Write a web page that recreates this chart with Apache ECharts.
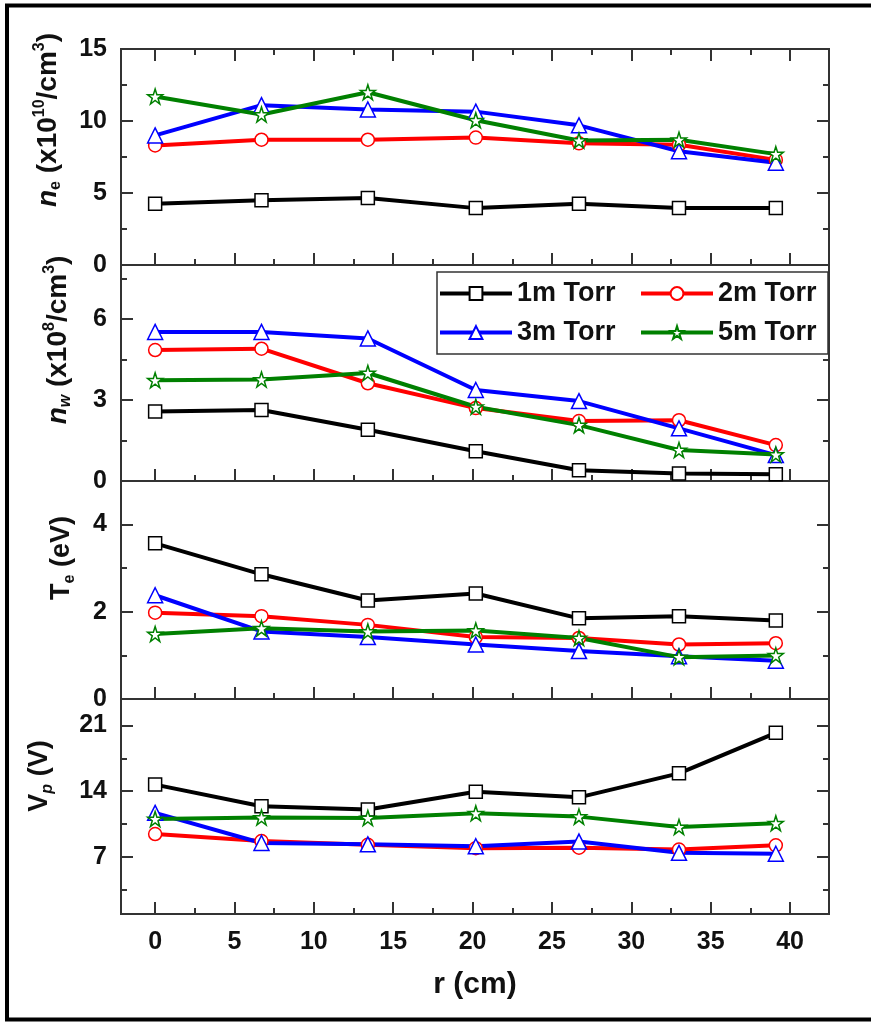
<!DOCTYPE html>
<html>
<head>
<meta charset="utf-8">
<title>Radial profiles</title>
<script src="https://cdn.jsdelivr.net/npm/echarts@6/dist/echarts.min.js"></script>
<style>
html, body { margin: 0; padding: 0; background: #fff; }
#chart { width: 871px; height: 1024px; }
</style>
</head>
<body>
<div id="chart"></div>
<script>
// radial position of the probe (cm)
const radius = [0, 6.7, 13.4, 20.2, 26.7, 33.0, 39.1];
const pressures = ['1m Torr', '2m Torr', '3m Torr', '5m Torr'];

// electron density n_e (x10^10 /cm^3)
const ne1m = [4.25, 4.5, 4.65, 3.95, 4.25, 3.95, 3.95];
const ne2m = [8.3, 8.7, 8.7, 8.85, 8.45, 8.35, 7.3];
const ne3m = [9.0, 11.1, 10.8, 10.65, 9.7, 7.9, 7.1];
const ne5m = [11.7, 10.45, 12.0, 10.05, 8.65, 8.7, 7.7];

// n_w (x10^8 /cm^3)
const nw1m = [2.57, 2.63, 1.9, 1.1, 0.4, 0.28, 0.25];
const nw2m = [4.85, 4.9, 3.62, 2.7, 2.22, 2.25, 1.33];
const nw3m = [5.52, 5.52, 5.28, 3.37, 2.96, 1.95, 0.96];
const nw5m = [3.73, 3.76, 4.0, 2.75, 2.07, 1.15, 0.98];

// electron temperature T_e (eV)
const te1m = [3.57, 2.86, 2.26, 2.42, 1.85, 1.9, 1.8];
const te2m = [1.98, 1.9, 1.7, 1.42, 1.4, 1.25, 1.28];
const te3m = [2.38, 1.55, 1.42, 1.25, 1.1, 0.98, 0.88];
const te5m = [1.49, 1.62, 1.55, 1.57, 1.4, 0.96, 1.0];

// plasma potential V_p (V)
const vp1m = [14.7, 12.4, 12.05, 13.95, 13.35, 15.9, 20.2];
const vp2m = [9.45, 8.7, 8.3, 7.95, 8.0, 7.8, 8.25];
const vp3m = [11.7, 8.5, 8.35, 8.15, 8.65, 7.45, 7.35];
const vp5m = [11.05, 11.2, 11.15, 11.65, 11.3, 10.2, 10.6];

// tick values
const xMajor = [0, 5, 10, 15, 20, 25, 30, 35, 40];
const xMinor = [2.5, 7.5, 12.5, 17.5, 22.5, 27.5, 32.5, 37.5];
const neMajor = [0, 5, 10, 15];
const neMinor = [2.5, 7.5, 12.5];
const nwMajor = [0, 3, 6];
const nwMinor = [1.5, 4.5, 7.5];
const teMajor = [0, 2, 4];
const teMinor = [1, 3];
const vpMajor = [7, 14, 21];
const vpMinor = [3.5, 10.5, 17.5];

const fontFamily = '"Liberation Sans", Arial, Helvetica, sans-serif';
const frameColor = '#333333';
const colors = ['#000000', '#ff0000', '#0000ff', '#008000'];
const starPath = 'path://M50,0L61.2,34.5L97.6,34.5L68.2,55.9L79.4,90.5L50,69.1L20.6,90.5L31.8,55.9L2.4,34.5L38.8,34.5Z';
const symbols = ['rect', 'circle', 'triangle', starPath];
const symbolSizes = [13, 13, 15, 15];
const xMin = -2.15, xMax = 42.45;

const panels = [
    { top: 49, height: 216, min: 0, max: 15, major: neMajor, minor: neMinor, data: [ne1m, ne2m, ne3m, ne5m] },
    { top: 265, height: 216, min: 0, max: 8, major: nwMajor, minor: nwMinor, data: [nw1m, nw2m, nw3m, nw5m] },
    { top: 481, height: 218, min: 0, max: 5, major: teMajor, minor: teMinor, data: [te1m, te2m, te3m, te5m] },
    { top: 699, height: 215, min: 0.95, max: 23.8, major: vpMajor, minor: vpMinor, data: [vp1m, vp2m, vp3m, vp5m] }
];

// an axis used only for its inward ticks (and maybe labels)
function tickAxis(gridIndex, position, min, max, values, length, showLabel) {
    return {
        type: 'value',
        gridIndex: gridIndex,
        position: position,
        min: min,
        max: max,
        axisLine: { show: false, onZero: false },
        splitLine: { show: false },
        axisTick: {
            show: true, inside: true, length: length, customValues: values,
            lineStyle: { color: frameColor, width: 2 }
        },
        axisLabel: {
            show: showLabel, customValues: values,
            fontSize: 25, fontWeight: 'bold', color: '#111', fontFamily: fontFamily, margin: 14
        }
    };
}

const grids = [];
const xAxes = [];
const yAxes = [];
const series = [];

panels.forEach(function (p, i) {
    grids.push({
        left: 121, right: 42, top: p.top, height: p.height,
        show: true, borderColor: frameColor, borderWidth: 2, backgroundColor: 'transparent'
    });
    const last = i === panels.length - 1;
    const xIndex = xAxes.length;
    const xMain = tickAxis(i, 'bottom', xMin, xMax, xMajor, 12, last);
    if (last) {
        xMain.axisLabel.margin = 16;
        xMain.name = 'r (cm)';
        xMain.nameLocation = 'middle';
        xMain.nameGap = 56;
        xMain.nameTextStyle = { fontSize: 30, fontWeight: 'bold', color: '#111', fontFamily: fontFamily };
    }
    xAxes.push(xMain);
    xAxes.push(tickAxis(i, 'bottom', xMin, xMax, xMinor, 6, false));
    if (i === 0) {
        xAxes.push(tickAxis(i, 'top', xMin, xMax, xMajor, 12, false));
        xAxes.push(tickAxis(i, 'top', xMin, xMax, xMinor, 6, false));
    }
    const yIndex = yAxes.length;
    yAxes.push(tickAxis(i, 'left', p.min, p.max, p.major, 12, true));
    yAxes.push(tickAxis(i, 'left', p.min, p.max, p.minor, 6, false));
    yAxes.push(tickAxis(i, 'right', p.min, p.max, p.major, 12, false));
    yAxes.push(tickAxis(i, 'right', p.min, p.max, p.minor, 6, false));

    p.data.forEach(function (vals, k) {
        series.push({
            name: pressures[k],
            type: 'line',
            xAxisIndex: xIndex,
            yAxisIndex: yIndex,
            data: radius.map(function (r, j) { return [r, vals[j]]; }),
            symbol: symbols[k],
            symbolSize: symbolSizes[k],
            showAllSymbol: true,
            lineStyle: { color: colors[k], width: 4 },
            itemStyle: { color: '#fff', borderColor: colors[k], borderWidth: 1.5 },
            emphasis: { disabled: true }
        });
    });
});

// rotated axis titles with sub/superscripts
function nameText(x, y, size, text) {
    const base = { fontSize: size, fontWeight: 'bold', fontFamily: fontFamily, fill: '#111', lineHeight: 32 };
    const small = Math.round(size * 0.58);
    return {
        type: 'text', x: x, y: y, rotation: Math.PI / 2, silent: true,
        style: Object.assign({}, base, {
            text: text, align: 'center', verticalAlign: 'middle',
            rich: {
                b: base,
                it: Object.assign({}, base, { fontStyle: 'italic' }),
                sup: Object.assign({}, base, { fontSize: small, verticalAlign: 'top' }),
                sub: Object.assign({}, base, { fontSize: small, verticalAlign: 'bottom' }),
                subit: Object.assign({}, base, { fontSize: small, verticalAlign: 'bottom', fontStyle: 'italic' })
            }
        })
    };
}

const chart = echarts.init(document.getElementById('chart'), null, { renderer: 'canvas' });
chart.setOption({
    animation: false,
    backgroundColor: '#fff',
    grid: grids,
    xAxis: xAxes,
    yAxis: yAxes,
    legend: {
        data: pressures,
        left: 437, top: 272, width: 392,
        itemWidth: 72, itemHeight: 16, itemGap: 12,
        padding: [8, 0, 8, 1],
        borderColor: frameColor, borderWidth: 1.5, backgroundColor: '#fff',
        selectedMode: false,
        lineStyle: { width: 4 },
        textStyle: {
            fontSize: 27, fontWeight: 'bold', color: '#111', fontFamily: fontFamily,
            lineHeight: 22, width: 110, overflow: 'none'
        }
    },
    graphic: [
        {
            type: 'rect', silent: true,
            shape: { x: 7, y: 5.5, width: 900, height: 1014 },
            style: { fill: 'none', stroke: '#000', lineWidth: 4 }
        },
        nameText(48, 120, 28, '{it|n}{sub|e}{b| (x10}{sup|10}{b|/cm}{sup|3}{b|)}'),
        nameText(58, 340, 28, '{it|n}{subit|w}{b| (x10}{sup|8}{b|/cm}{sup|3}{b|)}'),
        nameText(62, 558, 27, '{b|T}{sub|e}{b| (eV)}'),
        nameText(40, 776, 27, '{b|V}{subit|p}{b| (V)}')
    ],
    series: series
});
</script>
</body>
</html>
